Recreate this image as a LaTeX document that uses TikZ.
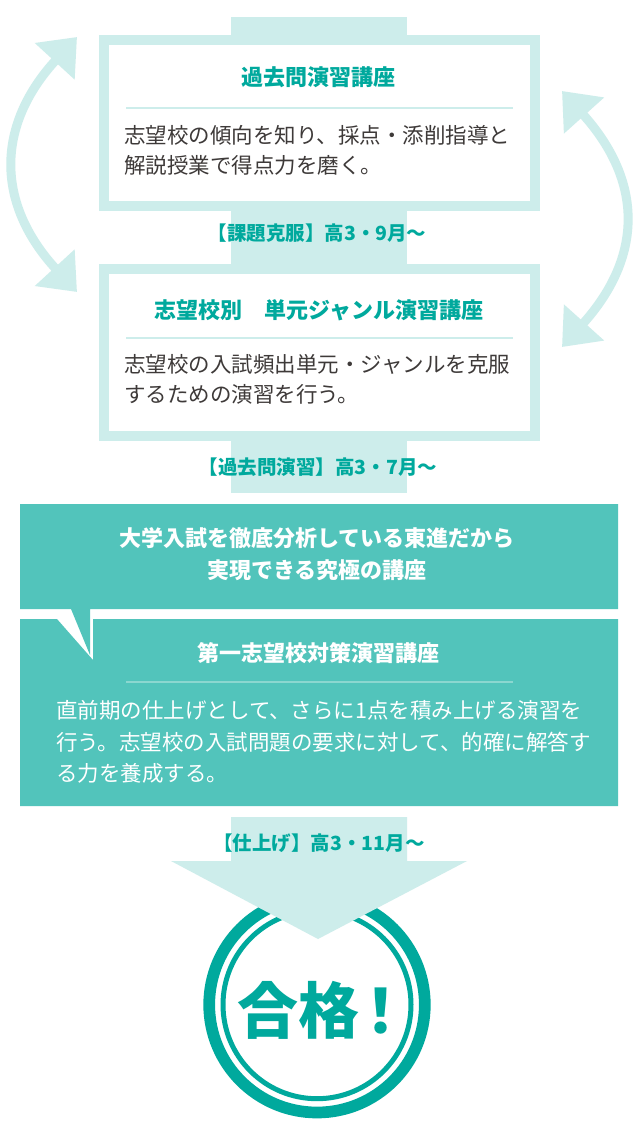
\documentclass[tikz,border=0pt]{standalone}
\usepackage{fontspec}
\setmainfont{Noto Sans CJK JP}
\usetikzlibrary{arrows.meta}

\definecolor{stripc}{HTML}{CDEDEB}
\definecolor{darkteal}{HTML}{00A99D}
\definecolor{boxteal}{HTML}{52C4BB}
\definecolor{septeal}{HTML}{8BD7D0}
\definecolor{bodygray}{HTML}{3E3A39}

\tikzset{
  titletext/.style={inner sep=0pt, font=\fontsize{22}{26}\selectfont\bfseries, text=darkteal},
  bodytext/.style={inner sep=0pt, anchor=west, align=left, font=\fontsize{21.5}{30}\selectfont, text=bodygray},
  steplabel/.style={inner sep=0pt, font=\fontsize{19.5}{22}\selectfont\bfseries, text=darkteal},
  stagebox/.style={draw=stripc, line width=10pt, fill=white},
  sepline/.style={draw=stripc, line width=1.5pt},
  sidearrow/.style={draw=stripc, line width=9pt, {Triangle[length=33pt,width=52pt]}-{Triangle[length=33pt,width=52pt]}},
}

\begin{document}
\begin{tikzpicture}[x=1pt,y=-1pt]
\useasboundingbox (0,0) rectangle (640,1138);
\fill[white] (0,0) rectangle (640,1138);

%strip behind the two boxes
\fill[stripc] (231,17) rectangle (407,493);

%First box
\draw[stagebox] (104,39.5) rectangle (535,206);
\node (t1) [titletext] at (318,77) {過去問演習講座};
\draw[sepline] (126,108) -- (513,108);
\node (b1) [bodytext] at (124,150.5) {志望校の傾向を知り、採点・添削指導と\\解説授業で得点力を磨く。};
\node (l1) [steplabel] at (317,233) {【課題克服】高3・9月〜};

%Second box
\draw[stagebox] (104,269) rectangle (535,435.5);
\node (t2) [titletext] at (319,310) {志望校別　単元ジャンル演習講座};
\draw[sepline] (126,338) -- (513,338);
\node (b2) [bodytext] at (124,379) {志望校の入試頻出単元・ジャンルを克服\\するための演習を行う。};
\node (l2) [steplabel] at (318,467) {【過去問演習】高3・7月〜};

%side arrows
\coordinate (ltop) at (77,37);
\coordinate (lbot) at (77,292);
\coordinate (rtop) at (562,91);
\coordinate (rbot) at (562,347);
\draw[sidearrow] (lbot) .. controls (-4.3,203.4) and (-4.3,125.6) .. (ltop);
\draw[sidearrow] (rtop) .. controls (643.3,181.5) and (643.3,256.5) .. (rbot);

%teal boxes
\fill[boxteal] (20,504) -- (618,504) -- (618,609) -- (90,609) -- (90,655) -- (71,609) -- (20,609) -- cycle;
\fill[boxteal] (20,619) -- (57,619) -- (93,660) -- (93,619) -- (618,619) -- (618,806) -- (20,806) -- cycle;
\node (h1) [titletext, text=white, align=center, font=\fontsize{22}{32}\selectfont\bfseries] at (317,554) {大学入試を徹底分析している東進だから\\実現できる究極の講座};
\node (t3) [titletext, text=white] at (318,653) {第一志望校対策演習講座};
\draw[septeal, line width=1.5pt] (126,682) -- (513,682);
\node (b3) [bodytext, text=white, font=\fontsize{21.5}{31.5}\selectfont] at (56,742) {直前期の仕上げとして、さらに1点を積み上げる演習を\\行う。志望校の入試問題の要求に対して、的確に解答す\\る力を養成する。};

%goal
\draw[darkteal, line width=11.7pt] (317,1004.7) circle [radius=107.8pt];
\draw[darkteal, line width=5pt] (317,1004.7) circle [radius=94pt];
\fill[stripc] (231,817) -- (407,817) -- (407,861) -- (467,861) -- (318,939) -- (171,861) -- (231,861) -- cycle;
\node (l3) [steplabel] at (319,843) {【仕上げ】高3・11月〜};
\node (goal) [inner sep=0pt, text=darkteal, font=\fontsize{61}{64}\selectfont\bfseries] at (324,1010) {合格\kern-9pt！};
\end{tikzpicture}
\end{document}
